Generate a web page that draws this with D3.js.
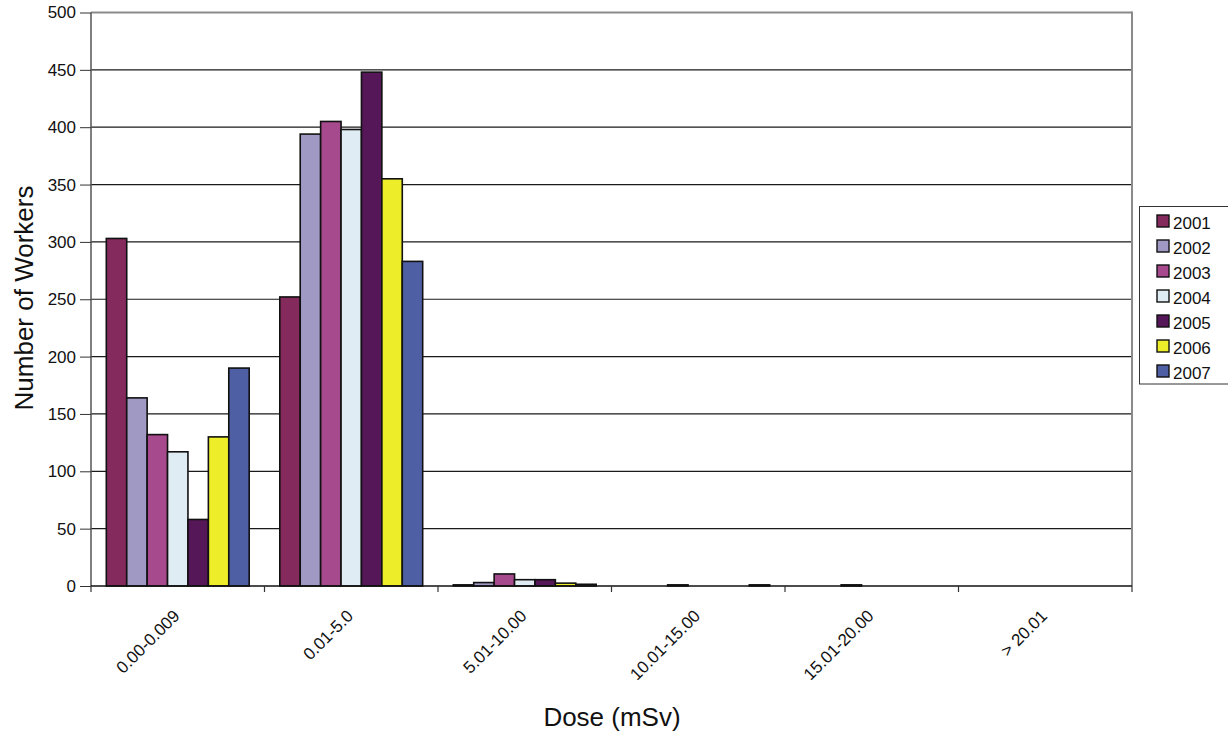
<!DOCTYPE html>
<html><head><meta charset="utf-8">
<script src="https://cdn.jsdelivr.net/npm/d3@7"></script>
<style>body{margin:0;background:#fff;} svg{display:block;font-family:"Liberation Sans",Arial,sans-serif;}</style>
</head><body><svg id="c" width="1228" height="738"></svg>
<script>
const categories = ["0.00-0.009","0.01-5.0","5.01-10.00","10.01-15.00","15.01-20.00","> 20.01"];
const years = ["2001","2002","2003","2004","2005","2006","2007"];
const colors = ["#842a5c","#a099c4","#a6498d","#e0ecf4","#551758","#eded2a","#4f5fa3"];
const v2001 = [303, 252, 1, 0, 0, 0];
const v2002 = [164, 394, 3, 0, 0, 0];
const v2003 = [132, 405, 10.5, 1, 1, 0];
const v2004 = [117, 398, 5.5, 0, 0, 0];
const v2005 = [58, 448, 5.5, 0, 0, 0];
const v2006 = [130, 355, 2.5, 0, 0, 0];
const v2007 = [190, 283, 1.5, 1, 0, 0];
const yTicks = [0,50,100,150,200,250,300,350,400,450,500];
const seriesValues = [v2001,v2002,v2003,v2004,v2005,v2006,v2007];

const svg = d3.select("#c");
const L = 91, R = 1132, T = 12.5, B = 586;
const x = d3.scaleBand().domain(categories).range([L, R]).paddingInner(0).paddingOuter(0);
const bw = x.bandwidth() / 8.5;
const x1 = d3.scaleBand().domain(years).range([0.75 * bw, x.bandwidth() - 0.75 * bw]).padding(0);
const y = d3.scaleLinear().domain([0, 500]).range([B, T]);

// gridlines
svg.append("g").selectAll("line").data(yTicks.slice(1)).join("line")
  .attr("x1", L).attr("x2", R).attr("y1", d => y(d)).attr("y2", d => y(d))
  .attr("stroke", d => d === 500 ? "#8a8a8a" : "#1a1a1a").attr("stroke-width", d => d === 500 ? 2 : 1.2);
// right border
svg.append("line").attr("x1", R).attr("x2", R).attr("y1", T - 1).attr("y2", B)
  .attr("stroke", "#8a8a8a").attr("stroke-width", 2);

// bars
const groups = svg.append("g").selectAll("g").data(years).join("g");
groups.each(function(yr, si) {
  d3.select(this).selectAll("rect").data(seriesValues[si].map((v, ci) => ({v, c: categories[ci]})).filter(d => d.v > 0))
    .join("rect")
    .attr("x", d => x(d.c) + x1(yr))
    .attr("width", x1.bandwidth())
    .attr("y", d => y(d.v))
    .attr("height", d => B - y(d.v))
    .attr("fill", colors[si])
    .attr("stroke", "#111").attr("stroke-width", 1.6);
});

// y axis
const yAxis = d3.axisLeft(y).tickValues(yTicks).tickSize(11).tickPadding(4);
const gy = svg.append("g").attr("transform", `translate(${L},0)`).call(yAxis);
gy.select(".domain").attr("stroke", "#555").attr("stroke-width", 1.5).attr("d", `M-0,${T}V${B}`);
gy.selectAll(".tick line").attr("stroke", "#333");
gy.selectAll("text").attr("font-size", 17).attr("fill", "#111").attr("font-family", "Liberation Sans, Arial, sans-serif");

// x axis
const gx = svg.append("g").attr("transform", `translate(0,${B})`);
gx.append("line").attr("x1", L).attr("x2", R).attr("stroke", "#111").attr("stroke-width", 1.5);
gx.selectAll("line.tk").data(d3.range(categories.length + 1)).join("line").attr("class", "tk")
  .attr("x1", i => L + i * x.bandwidth()).attr("x2", i => L + i * x.bandwidth())
  .attr("y1", 0).attr("y2", 6).attr("stroke", "#333").attr("stroke-width", 1.2);
gx.selectAll("text").data(categories).join("text")
  .attr("transform", d => `translate(${x(d) + x.bandwidth() / 2 + 3},${31}) rotate(-45)`)
  .attr("text-anchor", "end").attr("font-size", 17).attr("fill", "#111").text(d => d);

// axis titles
svg.append("text").attr("x", 612).attr("y", 726).attr("text-anchor", "middle")
  .attr("font-size", 26).attr("fill", "#111").text("Dose (mSv)");
svg.append("text").attr("transform", "translate(33,298) rotate(-90)").attr("text-anchor", "middle")
  .attr("font-size", 26).attr("fill", "#111").text("Number of Workers");

// legend
const lg = svg.append("g");
lg.append("rect").attr("x", 1139.5).attr("y", 206.5).attr("width", 100).attr("height", 177.5)
  .attr("fill", "#fff").attr("stroke", "#333").attr("stroke-width", 1);
const li = lg.selectAll("g").data(years).join("g")
  .attr("transform", (d, i) => `translate(1157,${215 + i * 25})`);
li.append("rect").attr("width", 12).attr("height", 12).attr("fill", (d, i) => colors[i])
  .attr("stroke", "#111").attr("stroke-width", 1.4);
li.append("text").attr("x", 16).attr("y", 14).attr("font-size", 17).attr("fill", "#111").text(d => d);
</script></body></html>
